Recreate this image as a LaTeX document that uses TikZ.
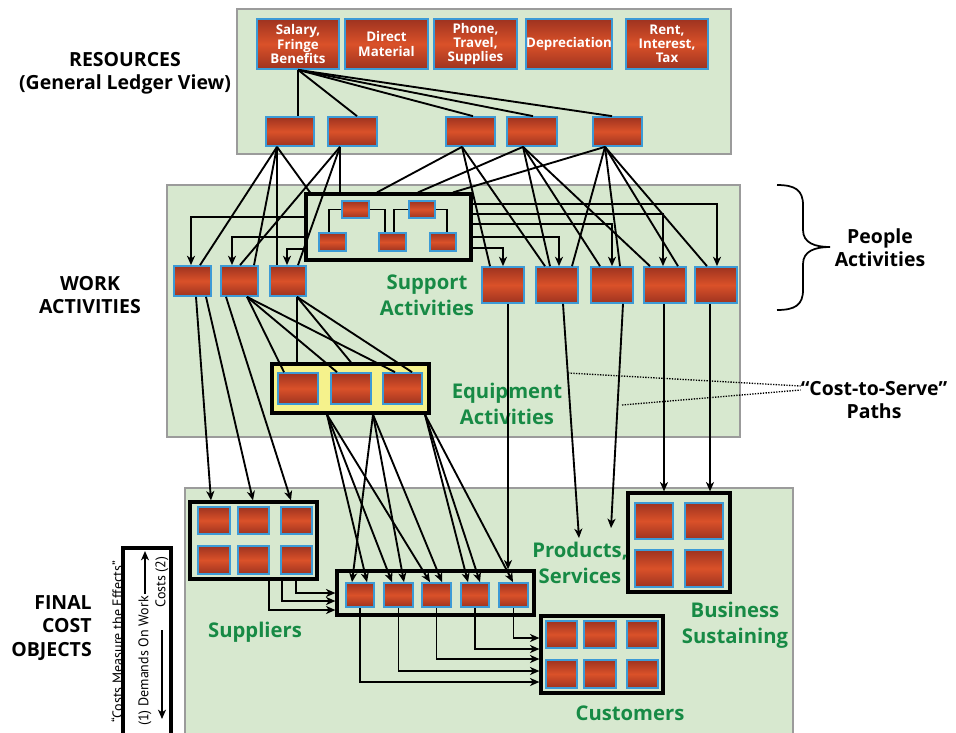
\documentclass[tikz,border=0pt]{standalone}
\usepackage{fontspec}
\setmainfont{Open Sans}
\newfontfamily\condfont{PT Sans}
\usetikzlibrary{arrows.meta,calc}
\definecolor{pgreen}{HTML}{D7E8CF}
\definecolor{pgray}{HTML}{9B9B9B}
\definecolor{bblue}{HTML}{3C9AD6}
\definecolor{rdark}{HTML}{9E3320}
\definecolor{rmid}{HTML}{DA5129}
\definecolor{yfill}{HTML}{F5F28C}
\definecolor{tgreen}{HTML}{178A45}
% \bx{name}{style}{x1}{y1}{x2}{y2}{text}
\newcommand\bx[7]{\node[#2, minimum width={(#5-#3)*0.75pt}, minimum height={(#6-#4)*0.75pt}] (#1) at ({(#3+#5)/2},{(#4+#6)/2}) {#7};}
\begin{document}
\begin{tikzpicture}[x=0.75pt,y=-0.75pt,
 panel/.style={draw=pgray, line width=2pt, fill=pgreen, inner sep=0},
 rbox/.style={draw=bblue, line width=1.3pt, top color=rdark, bottom color=rdark, middle color=rmid, inner sep=0, text=white, font=\bfseries\fontsize{10}{10.6}\selectfont, align=center},
 grp/.style={draw=black, line width=2.4pt, fill=pgreen, inner sep=0},
 ygrp/.style={grp, fill=yfill},
 conn/.style={line width=1.4pt},
 arr/.style={conn, -{Stealth[length=7pt,width=6pt,inset=2pt]}},
 glabel/.style={text=tgreen, font=\bfseries\fontsize{15.2}{19.5}\selectfont, align=center, inner sep=0},
 blabel/.style={text=black, font=\bfseries\fontsize{14.6}{17.5}\selectfont, align=center, inner sep=0},
 slabel/.style={text=black, font=\condfont\fontsize{10.5}{12}\selectfont, inner sep=0},
 dotline/.style={line width=1pt, dash pattern=on 1pt off 1pt}]
\useasboundingbox (0,0) rectangle (956,732);

% panels
\bx{PR}{panel}{237}{9}{731}{154}{}
\bx{PW}{panel}{167}{185}{740}{437}{}
\bx{PF}{panel}{185}{488}{793}{745}{}

% group boxes
\bx{SB}{grp}{306}{194}{471}{260}{}
\bx{EB}{ygrp}{272}{364}{429}{413}{}
\bx{SU}{grp}{190}{502}{317}{579}{}
\bx{PB}{grp}{337}{571}{534}{615}{}
\bx{CU}{grp}{541}{616}{663}{693}{}
\bx{BS}{grp}{628}{493}{730}{592}{}

% resources
\bx{S1}{rbox}{257}{19}{339}{69}{Salary,\\Fringe\\Benefits}
\bx{S2}{rbox}{345}{19}{428}{69}{Direct\\Material}
\bx{S3}{rbox}{434}{19}{517}{69}{Phone,\\Travel,\\Supplies}
\bx{S4}{rbox}{526}{19}{612}{69}{Depreciation}
\bx{S5}{rbox}{626}{19}{708}{69}{Rent,\\Interest,\\Tax}

\bx{R1}{rbox}{266}{117}{314}{146}{}
\bx{R2}{rbox}{328}{117}{377}{146}{}
\bx{R3}{rbox}{446}{117}{495}{146}{}
\bx{R4}{rbox}{507}{117}{557}{146}{}
\bx{R5}{rbox}{593}{117}{642}{146}{}

% support activities
\bx{s1}{rbox}{342}{201}{369}{218}{}
\bx{s2}{rbox}{409}{201}{435}{218}{}
\bx{s3}{rbox}{319}{233}{346}{251}{}
\bx{s4}{rbox}{379}{233}{406}{251}{}
\bx{s5}{rbox}{430}{233}{456}{251}{}

% work activities
\bx{W1}{rbox}{174}{266}{211}{296}{}
\bx{W2}{rbox}{221}{266}{258}{296}{}
\bx{W3}{rbox}{270}{266}{306}{296}{}
\bx{P1}{rbox}{482}{267}{524}{303}{}
\bx{P2}{rbox}{536}{267}{578}{303}{}
\bx{P3}{rbox}{591}{267}{633}{303}{}
\bx{P4}{rbox}{644}{267}{686}{303}{}
\bx{P5}{rbox}{695}{267}{737}{303}{}

% equipment
\bx{E1}{rbox}{278}{373}{318}{404}{}
\bx{E2}{rbox}{331}{373}{371}{404}{}
\bx{E3}{rbox}{383}{373}{422}{404}{}

% suppliers
\bx{su1}{rbox}{198}{507}{230}{534}{}
\bx{su2}{rbox}{238}{507}{269}{534}{}
\bx{su3}{rbox}{281}{507}{312}{534}{}
\bx{su4}{rbox}{198}{546}{230}{574}{}
\bx{su5}{rbox}{238}{546}{269}{574}{}
\bx{su6}{rbox}{281}{546}{312}{574}{}

% products
\bx{p1}{rbox}{346}{583}{374}{607}{}
\bx{p2}{rbox}{384}{583}{413}{607}{}
\bx{p3}{rbox}{422}{583}{451}{607}{}
\bx{p4}{rbox}{461}{583}{489}{607}{}
\bx{p5}{rbox}{499}{583}{528}{607}{}

% customers
\bx{cu1}{rbox}{546}{621}{577}{648}{}
\bx{cu2}{rbox}{584}{621}{616}{648}{}
\bx{cu3}{rbox}{627}{621}{658}{648}{}
\bx{cu4}{rbox}{546}{660}{577}{688}{}
\bx{cu5}{rbox}{584}{660}{616}{688}{}
\bx{cu6}{rbox}{627}{660}{658}{688}{}

% business sustaining
\bx{bs1}{rbox}{635}{503}{673}{539}{}
\bx{bs2}{rbox}{685}{503}{723}{539}{}
\bx{bs3}{rbox}{635}{550}{673}{587}{}
\bx{bs4}{rbox}{685}{550}{723}{587}{}

% labels
\node[blabel] (lres) at (125,73) {RESOURCES\\(General Ledger View)};
\node[blabel] (lwork) at (90,295) {WORK\\ACTIVITIES};
\node[blabel, align=right, anchor=east] (lfin) at (92,628) {FINAL\\COST\\OBJECTS};
\node[blabel] (lpeople) at (880,248) {People\\Activities};
\node[blabel] (lcts) at (874,400) {“Cost-to-Serve”\\Paths};
\node[glabel] (lsup) at (427,295) {Support\\Activities};
\node[glabel] (leq) at (507,404) {Equipment\\Activities};
\node[glabel] (lsuppl) at (255,632) {Suppliers};
\node[glabel] (lcust) at (630,713) {Customers};
\node[glabel] (lps) at (580,563) {Products,\\Services};
\node[glabel] (lbs) at (735,625) {Business\\Sustaining};

% salary to second row
\draw[conn] (S1.south) -- (R1.north -| 298,0);
\draw[conn] (S1.south) -- (R2.north -| 357,0);
\draw[conn] (S1.south) -- (R3.north -| 473,0);
\draw[conn] (S1.south) -- (R4.north -| 533,0);
\draw[conn] (S1.south) -- (R5.north -| 612,0);

% second row to work activities
\draw[conn] (R1.south -| 277,0) -- (W1.north -| 200,0);
\draw[conn] (R1.south -| 277,0) -- (W2.north -| 254,0);
\draw[conn] (R1.south -| 277,0) -- (W3.north -| 277,0);
\draw[conn] (R1.south -| 277,0) -- (SB.north -| 310,0);
\draw[conn] (R2.south -| 340,0) -- (W2.north -| 240,0);
\draw[conn] (R2.south -| 340,0) -- (W3.north -| 298,0);
\draw[conn] (R2.south -| 340,0) -- (SB.north -| 340,0);
\draw[conn] (R3.south -| 462,0) -- (SB.north -| 377,0);
\draw[conn] (R3.south -| 462,0) -- (P1.north -| 490,0);
\draw[conn] (R3.south -| 462,0) -- (P2.north -| 545,0);
\draw[conn] (R4.south -| 523,0) -- (SB.north -| 418,0);
\draw[conn] (R4.south -| 523,0) -- (P2.north -| 550,0);
\draw[conn] (R4.south -| 523,0) -- (P3.north -| 600,0);
\draw[conn] (R4.south -| 523,0) -- (P4.north -| 650,0);
\draw[conn] (R5.south -| 605,0) -- (SB.north -| 453,0);
\draw[conn] (R5.south -| 605,0) -- (P2.north -| 572,0);
\draw[conn] (R5.south -| 605,0) -- (P3.north -| 620,0);
\draw[conn] (R5.south -| 605,0) -- (P4.north -| 678,0);
\draw[conn] (R5.south -| 605,0) -- (P5.north -| 707,0);

% support org chart
\draw[conn] (s1.west) -| (s3.north -| 329,0);
\draw[conn] (s1.east) -| (s4.north -| 385,0);
\draw[conn] (s2.west) -| (s4.north -| 394,0);
\draw[conn] (s2.east) -| (s5.north -| 447,0);

% support to people activities
\draw[arr] (SB.east |- 0,204) -| (P5.north -| 717,0);
\draw[arr] (SB.east |- 0,214) -| (P4.north -| 663,0);
\draw[arr] (SB.east |- 0,224) -| (P3.north -| 612,0);
\draw[arr] (SB.east |- 0,237) -| (P2.north -| 559,0);
\draw[arr] (SB.east |- 0,248) -| (P1.north -| 503,0);
\draw[arr] (SB.west |- 0,217) -| (W1.north -| 191,0);
\draw[arr] (SB.west |- 0,237) -| (W2.north -| 232,0);
\draw[arr] (SB.west |- 0,249) -| (W3.north -| 287,0);

% work activities to equipment
\draw[conn] (W2.south -| 247,0) -- (E1.north -| 284,0);
\draw[conn] (W2.south -| 247,0) -- (E2.north -| 337,0);
\draw[conn] (W2.south -| 247,0) -- (E3.north -| 395,0);
\draw[conn] (W3.south -| 297,0) -- (EB.north -| 297,0);
\draw[conn] (W3.south -| 297,0) -- (EB.north -| 351,0);
\draw[conn] (W3.south -| 297,0) -- (E3.north -| 412,0);

% work activities to suppliers
\draw[arr] (W1.south -| 196,0) -- (SU.north -| 211,0);
\draw[arr] (W1.south -| 206,0) -- (SU.north -| 253,0);
\draw[arr] (W2.south -| 226,0) -- (SU.north -| 291,0);

% equipment to products
\draw[arr] (EB.south -| 327,0) -- (p1.north -| 367,0);
\draw[arr] (EB.south -| 327,0) -- (p2.north -| 392,0);
\draw[arr] (EB.south -| 327,0) -- (p3.north -| 430,0);
\draw[arr] (EB.south -| 373,0) -- (p1.north -| 352,0);
\draw[arr] (EB.south -| 373,0) -- (p2.north -| 404,0);
\draw[arr] (EB.south -| 373,0) -- (p3.north -| 442,0);
\draw[arr] (EB.south -| 425,0) -- (p4.north -| 468,0);
\draw[arr] (EB.south -| 425,0) -- (p4.north -| 480,0);
\draw[arr] (EB.south -| 425,0) -- (p5.north -| 513,0);

% people activities down
\coordinate (ps1) at (579,538);
\coordinate (ps2) at (611,528);
\draw[arr] (P1.south -| 508,0) -- (PB.north -| 508,0);
\draw[arr] (P2.south -| 563,0) -- (ps1);
\draw[arr] (P3.south -| 623,0) -- (ps2);
\draw[arr] (P4.south -| 664,0) -- (BS.north -| 664,0);
\draw[arr] (P5.south -| 710,0) -- (BS.north -| 710,0);

% suppliers to products
\draw[arr] (SU.south -| 296,0) |- (PB.west |- 0,593);
\draw[arr] (SU.south -| 282,0) |- (PB.west |- 0,601);
\draw[arr] (SU.south -| 269,0) |- (PB.west |- 0,610);

% products to customers
\draw[arr] (p1.south) |- (CU.west |- 0,682);
\draw[arr] (p2.south) |- (CU.west |- 0,671);
\draw[arr] (p3.south) |- (CU.west |- 0,659);
\draw[arr] (p4.south) |- (CU.west |- 0,649);
\draw[arr] (p5.south) |- (CU.west |- 0,638);

% cost-to-serve dotted
\coordinate (ct1) at (568,373);
\coordinate (ct2) at (622,405);
\draw[dotline] (ct1) -- (lcts.west |- 0,386);
\draw[dotline] (ct2) -- (lcts.west |- 0,390);

% brace
\draw[line width=1.3pt] (777,185) .. controls (795,185) and (803,190) .. (803,205) -- (803,230) .. controls (803,243) and (815,247) .. (830,247) .. controls (815,247) and (803,251) .. (803,264) -- (803,290) .. controls (803,305) and (795,310) .. (777,310);

% left vertical box
\draw[line width=2.6pt] (123,760) -- (123,548) -- (171,548) -- (171,760);
\node[slabel, rotate=90] (tq) at (117,642) {“Costs Measure the Effects”};
\node[slabel, rotate=90] (td) at (145,661) {(1) Demands On Work};
\node[slabel, rotate=90] (tc) at (162,582) {Costs (2)};
\coordinate (ua) at (145,594);
\coordinate (ub) at (145,551);
\coordinate (da) at (162,630);
\coordinate (db) at (162,719);
\draw[arr, line width=1.1pt] (ua) -- (ub);
\draw[arr, line width=1.1pt] (da) -- (db);
\end{tikzpicture}
\end{document}
